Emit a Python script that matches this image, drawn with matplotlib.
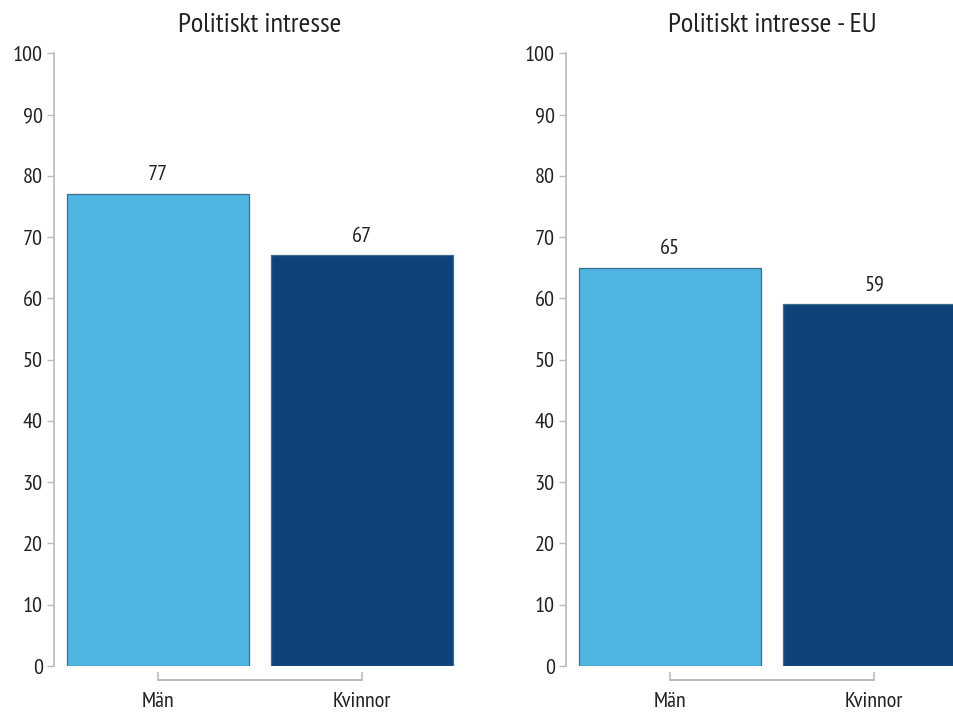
import matplotlib
matplotlib.use("Agg")
import matplotlib.pyplot as plt

plt.rcParams['font.family'] = ['PT Sans Narrow', 'DejaVu Sans']

categories = ["Män", "Kvinnor"]
titles = ["Politiskt intresse", "Politiskt intresse - EU"]
values_total = [77, 67]
values_eu = [65, 59]
colors = ["#4fb6e3", "#10427a"]
yticks = list(range(0, 101, 10))

fig = plt.figure(figsize=(9.54, 7.16), dpi=100)
ax1 = fig.add_axes([0.0566, 0.0698, 0.432, 0.8558])
ax2 = fig.add_axes([0.5933, 0.0698, 0.432, 0.8558])

for ax, title, vals in [(ax1, titles[0], values_total), (ax2, titles[1], values_eu)]:
    x = list(range(len(categories)))
    bars = ax.bar(x, vals, width=0.89, color=colors, edgecolor="#3f6d8c", linewidth=0.9)
    for b, v in zip(bars, vals):
        ax.annotate(str(v), (b.get_x() + b.get_width() / 2, v), xytext=(0, 7),
                    textcoords="offset points", ha="center", va="bottom",
                    fontsize=16, color="#222222")
    ax.set_xlim(-0.51, 1.51)
    ax.set_ylim(0, 100)
    ax.set_yticks(yticks)
    ax.set_xticks(x)
    ax.set_xticklabels(categories)
    ax.set_title(title, fontsize=20.5, color="#222222", pad=15)
    for s in ["top", "right"]:
        ax.spines[s].set_visible(False)
    ax.spines["left"].set_color("#bbbbbb")
    ax.spines["left"].set_linewidth(1.2)
    ax.spines["bottom"].set_color("#bbbbbb")
    ax.spines["bottom"].set_linewidth(1.5)
    ax.spines["bottom"].set_position(("outward", 10))
    ax.spines["bottom"].set_bounds(0, 1)
    ax.tick_params(axis="y", colors="#bbbbbb", labelcolor="#222222", labelsize=16,
                   length=5, width=1, pad=3)
    ax.tick_params(axis="x", direction="in", colors="#bbbbbb", labelcolor="#222222",
                   labelsize=16, length=6, width=1.2, pad=9)

fig.savefig("out.png", dpi=100)
